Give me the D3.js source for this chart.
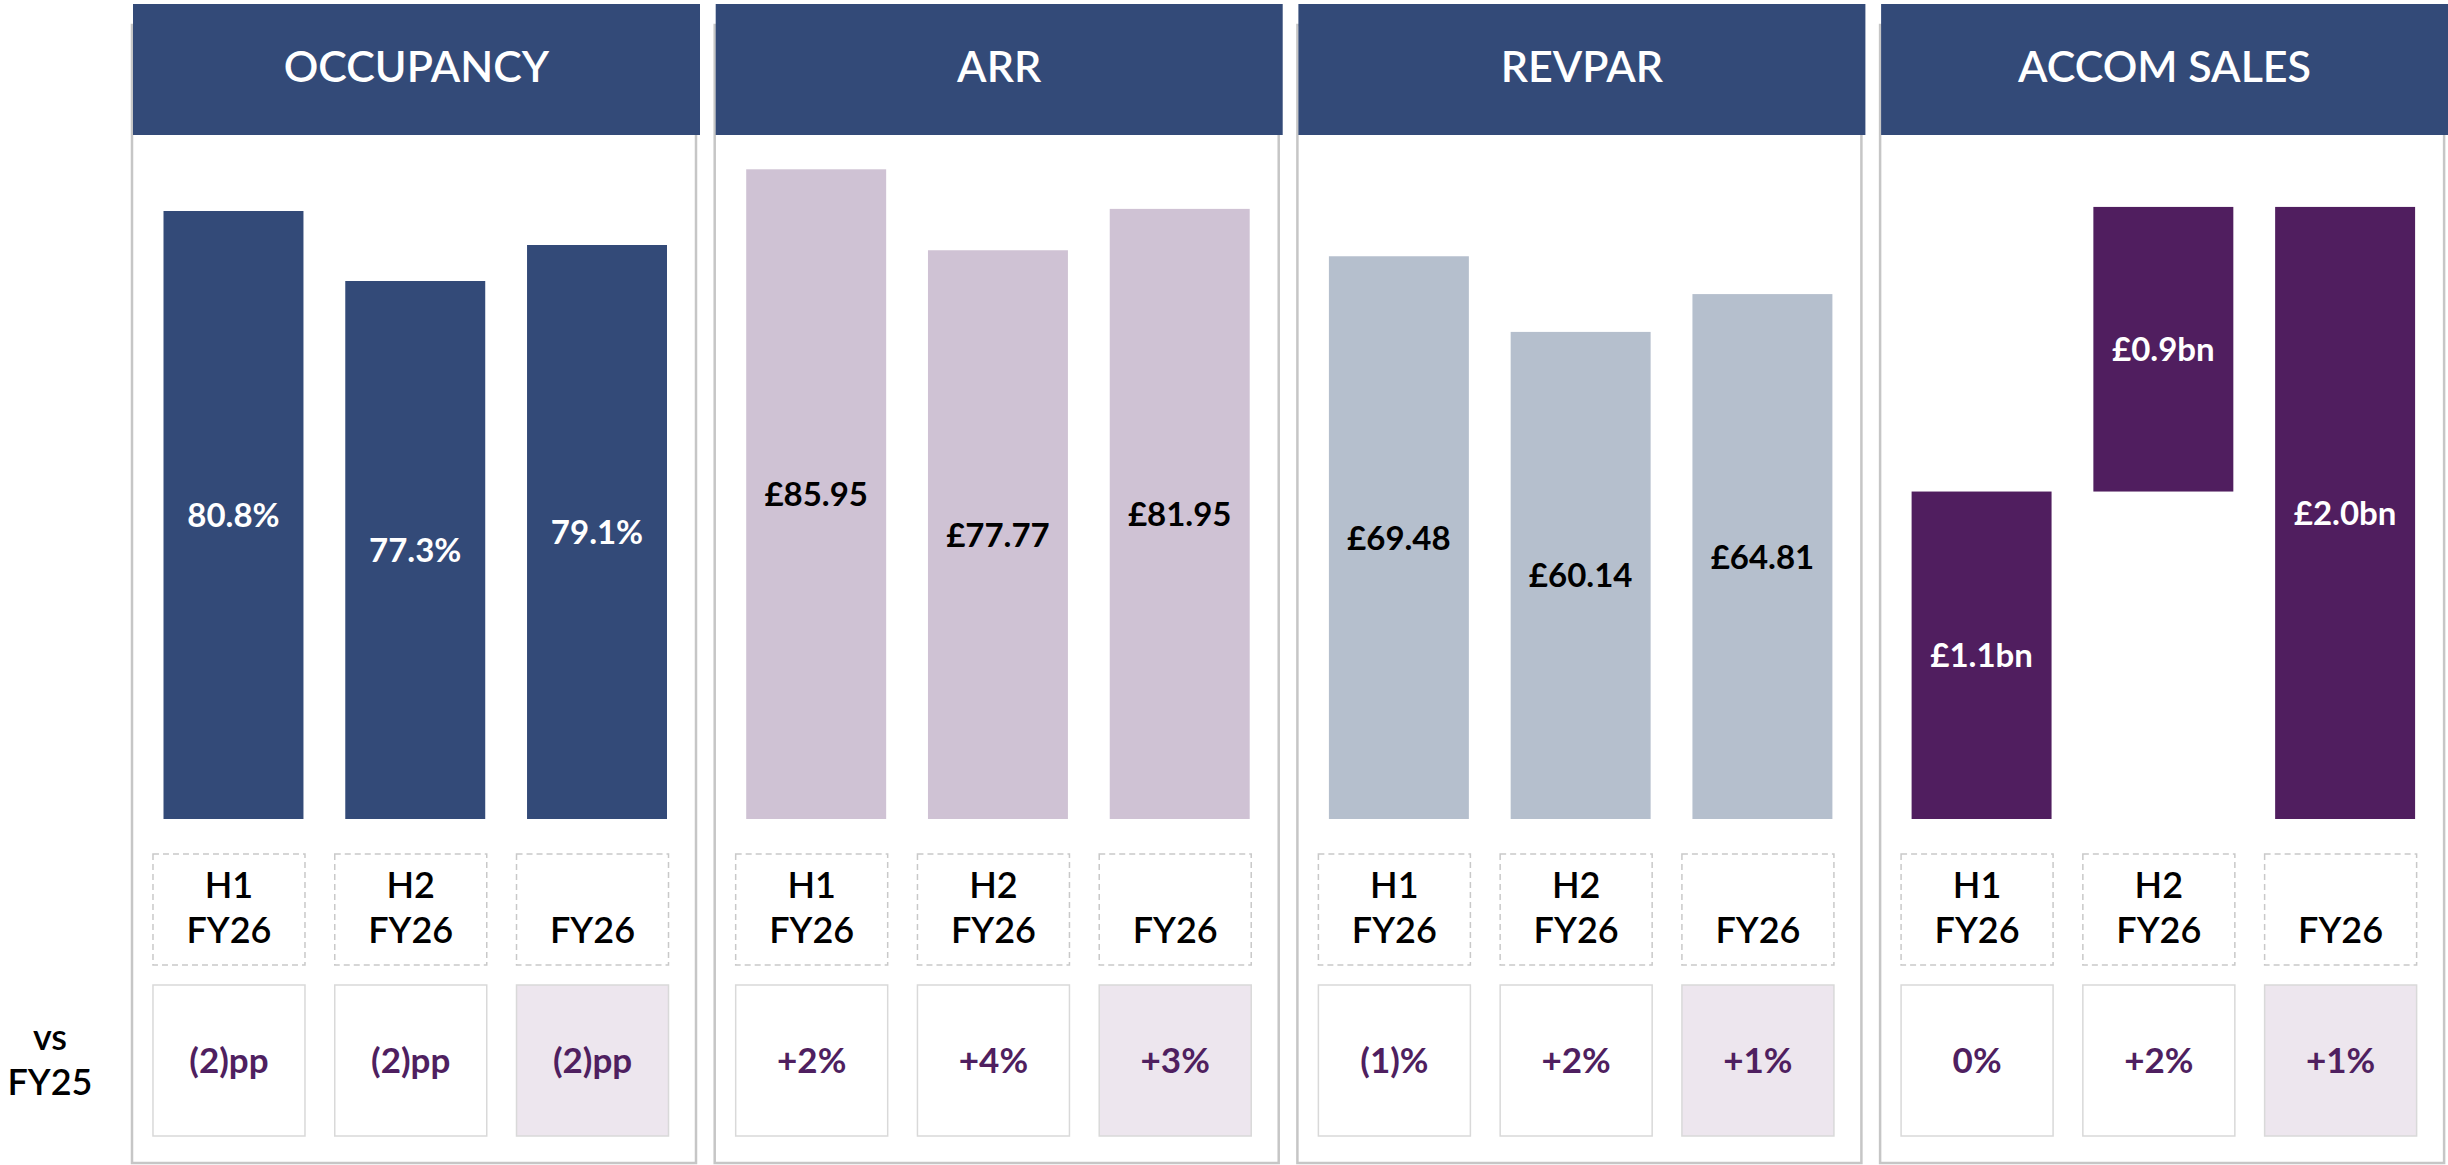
<!DOCTYPE html>
<html>
<head>
<meta charset="utf-8">
<script src="https://cdn.jsdelivr.net/npm/d3@7"></script>
<style>
  html, body { margin: 0; padding: 0; background: #ffffff; }
  svg { display: block; }
</style>
</head>
<body>
<div id="chart"></div>
<script>
// Panel titles, left to right
var metrics = ["OCCUPANCY", "ARR", "REVPAR", "ACCOM SALES"];

// Period labels under each bar (two lines each)
var periods = [["H1", "FY26"], ["H2", "FY26"], ["", "FY26"]];

// Values
var occupancy = [80.8, 77.3, 79.1];      // %
var arr = [85.95, 77.77, 81.95];         // £
var revpar = [69.48, 60.14, 64.81];      // £
var accomSales = [1.07, 0.93, 2.0];      // £bn, H1 + H2 stack up to FY

// Change vs FY25
var occupancyChange = ["(2)pp", "(2)pp", "(2)pp"];
var arrChange = ["+2%", "+4%", "+3%"];
var revparChange = ["(1)%", "+2%", "+1%"];
var accomChange = ["0%", "+2%", "+1%"];

var rowLabel = ["vs", "FY25"];

/* Layout and styling. Each panel has its own value axis, the first two
** are truncated like in the original slide.
*/
var config = {
    width: 2448,
    height: 1165,
    font: "Lato, 'Open Sans', sans-serif",
    panel: { left: 132, step: 582.7, width: 564, top: 25, bottom: 1163 },
    header: { top: 4, height: 131, width: 567, fill: "#334A78", fontSize: 43 },
    plot: { base: 819, top: 150, inner: [31.5, 535], padding: 0.23 },
    catBox: { top: 854, height: 111, width: 152, shift: -9 },
    deltaBox: { top: 985, height: 151 },
    colors: {
        border: "#C6C6C6",
        dash: "#C9C9C9",
        deltaBorder: "#D9D9D9",
        deltaFill: "#EDE6EE",
        delta: "#4F1F60",
        text: "#000000"
    },
    labelSize: 33,
    catSize: 36,
    deltaSize: 35
};

var fmtPct = d3.format(".1f"), fmt2 = d3.format(".2f"), fmt1 = d3.format(".1f");

var series = [
    { values: occupancy, change: occupancyChange, domain: [50.4, 83.85], fill: "#334A78", ink: "#ffffff",
      label: function (v) { return fmtPct(v) + "%"; } },
    { values: arr, change: arrChange, domain: [20.3, 87.9], fill: "#CFC2D4", ink: "#000000",
      label: function (v) { return "£" + fmt2(v); } },
    { values: revpar, change: revparChange, domain: [0, 82.6], fill: "#B5BFCD", ink: "#000000",
      label: function (v) { return "£" + fmt2(v); } },
    { values: accomSales, change: accomChange, domain: [0, 2.186], fill: "#501E5F", ink: "#ffffff",
      label: function (v) { return "£" + fmt1(v) + "bn"; }, waterfall: true }
];

var svg = d3.select("#chart").append("svg")
    .attr("width", config.width)
    .attr("height", config.height)
    .style("font-family", config.font);

var x = d3.scaleBand()
    .domain(d3.range(periods.length))
    .range(config.plot.inner)
    .paddingInner(config.plot.padding)
    .paddingOuter(0);

function draw(s, i) {
    var left = config.panel.left + i * config.panel.step;
    var g = svg.append("g").attr("transform", "translate(" + left + ",0)");

    var y = d3.scaleLinear()
        .domain(s.domain)
        .range([config.plot.base, config.plot.top]);

    // panel outline
    g.append("rect")
        .attr("x", 0)
        .attr("y", config.panel.top)
        .attr("width", config.panel.width)
        .attr("height", config.panel.bottom - config.panel.top)
        .attr("fill", "none")
        .attr("stroke", config.colors.border)
        .attr("stroke-width", 2.5);

    // header bar + title
    g.append("rect")
        .attr("x", 1)
        .attr("y", config.header.top)
        .attr("width", config.header.width)
        .attr("height", config.header.height)
        .attr("fill", config.header.fill);

    g.append("text")
        .attr("x", 1 + config.header.width / 2)
        .attr("y", 82)
        .attr("text-anchor", "middle")
        .attr("font-size", config.header.fontSize)
        .attr("font-weight", 600)
        .attr("fill", "#ffffff")
        .text(metrics[i]);

    // bars: start/end values (accom sales stacks H1 and H2)
    var bars = s.values.map(function (v, j) {
        var start = s.waterfall && j == 1 ? s.values[0] : s.domain[0];
        var end = s.waterfall && j == 1 ? s.values[0] + v : v;
        return { v: v, start: start, end: end, j: j };
    });

    var items = g.selectAll(".bar").data(bars).enter();

    items.append("rect")
        .attr("x", function (d) { return x(d.j); })
        .attr("y", function (d) { return y(d.end); })
        .attr("width", x.bandwidth())
        .attr("height", function (d) { return y(d.start) - y(d.end); })
        .attr("fill", s.fill);

    items.append("text")
        .attr("x", function (d) { return x(d.j) + x.bandwidth() / 2; })
        .attr("y", function (d) { return (y(d.start) + y(d.end)) / 2 + 12; })
        .attr("text-anchor", "middle")
        .attr("font-size", config.labelSize)
        .attr("font-weight", 700)
        .attr("fill", s.ink)
        .text(function (d) { return s.label(d.v); });

    // period boxes (dashed)
    var boxX = function (j) { return x(j) + x.bandwidth() / 2 - config.catBox.width / 2 + config.catBox.shift / 2; };

    var cats = g.selectAll(".cat").data(periods).enter();
    cats.append("rect")
        .attr("x", function (d, j) { return boxX(j); })
        .attr("y", config.catBox.top)
        .attr("width", config.catBox.width)
        .attr("height", config.catBox.height)
        .attr("fill", "none")
        .attr("stroke", config.colors.dash)
        .attr("stroke-width", 1.5)
        .attr("stroke-dasharray", "6,4");

    cats.append("text")
        .attr("x", function (d, j) { return boxX(j) + config.catBox.width / 2; })
        .attr("y", 898)
        .attr("text-anchor", "middle")
        .attr("font-size", config.catSize)
        .attr("font-weight", 600)
        .attr("fill", config.colors.text)
        .text(function (d) { return d[0]; });

    cats.append("text")
        .attr("x", function (d, j) { return boxX(j) + config.catBox.width / 2; })
        .attr("y", 943)
        .attr("text-anchor", "middle")
        .attr("font-size", config.catSize)
        .attr("font-weight", 600)
        .attr("fill", config.colors.text)
        .text(function (d) { return d[1]; });

    // change vs FY25 boxes, full year one shaded
    var deltas = g.selectAll(".delta").data(s.change).enter();
    deltas.append("rect")
        .attr("x", function (d, j) { return boxX(j); })
        .attr("y", config.deltaBox.top)
        .attr("width", config.catBox.width)
        .attr("height", config.deltaBox.height)
        .attr("fill", function (d, j) { return j == periods.length - 1 ? config.colors.deltaFill : "#ffffff"; })
        .attr("stroke", config.colors.deltaBorder)
        .attr("stroke-width", 1.5);

    deltas.append("text")
        .attr("x", function (d, j) { return boxX(j) + config.catBox.width / 2; })
        .attr("y", config.deltaBox.top + config.deltaBox.height / 2 + 12)
        .attr("text-anchor", "middle")
        .attr("font-size", config.deltaSize)
        .attr("font-weight", 700)
        .attr("fill", config.colors.delta)
        .text(function (d) { return d; });
}

series.forEach(draw);

// row label on the left
svg.append("text")
    .attr("x", 50)
    .attr("y", 1050)
    .attr("text-anchor", "middle")
    .attr("font-size", config.catSize)
    .attr("font-weight", 600)
    .text(rowLabel[0]);

svg.append("text")
    .attr("x", 50)
    .attr("y", 1095)
    .attr("text-anchor", "middle")
    .attr("font-size", config.catSize)
    .attr("font-weight", 600)
    .text(rowLabel[1]);
</script>
</body>
</html>
